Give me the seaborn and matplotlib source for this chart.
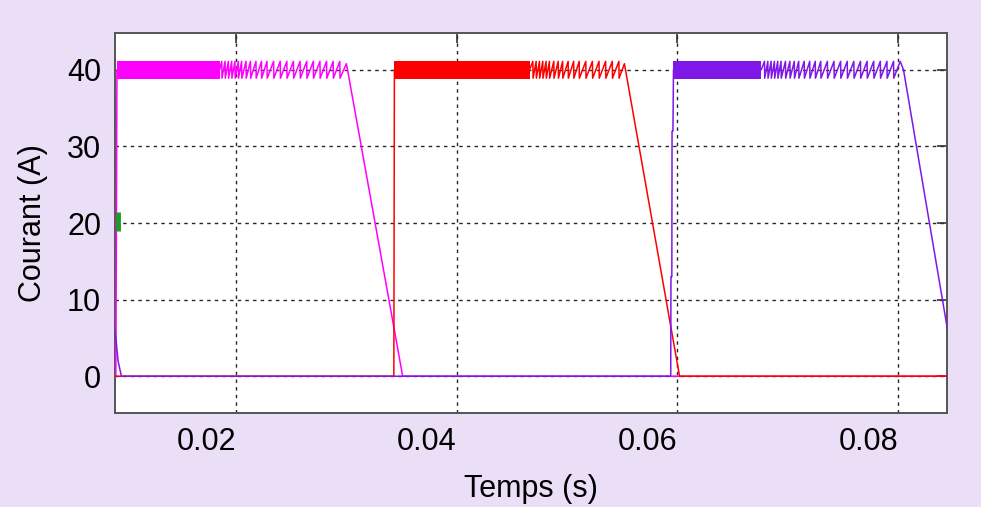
import numpy as np
import pandas as pd
import matplotlib
matplotlib.use("Agg")
import matplotlib.pyplot as plt
import seaborn as sns

# phase currents (time in s, current in A)
t_mag = [0.0088, 0.0091, 0.0092, 0.0185,
         0.0187, 0.01872, 0.0190, 0.01902, 0.0193, 0.01932, 0.0196, 0.01962, 0.0199, 0.01992,
         0.0202, 0.02022, 0.0205, 0.02052, 0.0209, 0.02092, 0.0213, 0.02132,
         0.0218, 0.02182, 0.0223, 0.02232, 0.0228, 0.02282, 0.0234, 0.02342, 0.0240, 0.02402,
         0.0246, 0.02462, 0.0252, 0.02522, 0.0258, 0.02582, 0.0264, 0.02642, 0.0270, 0.02702,
         0.0276, 0.02762, 0.0282, 0.02822, 0.0288, 0.02882, 0.0294, 0.02942, 0.0300,
         0.0351, 0.0850]
i_mag = [0.0, 0.0, 40.0, 40.0,
         41.1, 38.9, 41.1, 38.9, 41.1, 38.9, 41.1, 38.9, 41.1, 38.9,
         41.1, 38.9, 41.1, 38.9, 41.1, 38.9, 41.1, 38.9,
         41.1, 38.9, 41.1, 38.9, 41.1, 38.9, 41.1, 38.9, 41.1, 38.9,
         41.1, 38.9, 41.1, 38.9, 41.1, 38.9, 41.1, 38.9, 41.1, 38.9,
         41.1, 38.9, 41.1, 38.9, 41.1, 38.9, 41.1, 38.9, 40.8,
         0.0, 0.0]

t_red = [0.0088, 0.0343, 0.03435, 0.0466,
         0.0469, 0.04692, 0.0472, 0.04722, 0.0475, 0.04752, 0.0478, 0.04782, 0.0481, 0.04812,
         0.0484, 0.04842, 0.0488, 0.04882, 0.0492, 0.04922, 0.0496, 0.04962,
         0.0501, 0.05012, 0.0506, 0.05062, 0.0511, 0.05112, 0.0517, 0.05172, 0.0523, 0.05232,
         0.0529, 0.05292, 0.0535, 0.05352, 0.0541, 0.05412, 0.0547, 0.05472, 0.0552,
         0.0602, 0.0850]
i_red = [0.0, 0.0, 40.0, 40.0,
         41.1, 38.9, 41.1, 38.9, 41.1, 38.9, 41.1, 38.9, 41.1, 38.9,
         41.1, 38.9, 41.1, 38.9, 41.1, 38.9, 41.1, 38.9,
         41.1, 38.9, 41.1, 38.9, 41.1, 38.9, 41.1, 38.9, 41.1, 38.9,
         41.1, 38.9, 41.1, 38.9, 41.1, 38.9, 41.1, 38.9, 40.8,
         0.0, 0.0]

t_vio = [0.0088, 0.0091, 0.0093, 0.0096, 0.0594, 0.05942, 0.0595, 0.05952, 0.0596, 0.05965,
         0.0676,
         0.0679, 0.06792, 0.0682, 0.06822, 0.0685, 0.06852, 0.0688, 0.06882, 0.0691, 0.06912,
         0.0694, 0.06942, 0.0698, 0.06982, 0.0702, 0.07022, 0.0706, 0.07062, 0.0710, 0.07102,
         0.0715, 0.07152, 0.0720, 0.07202, 0.0725, 0.07252, 0.0730, 0.07302, 0.0736, 0.07362,
         0.0742, 0.07422, 0.0748, 0.07482, 0.0754, 0.07542, 0.0760, 0.07602, 0.0766, 0.07662,
         0.0772, 0.07722, 0.0778, 0.07782, 0.0784, 0.07842, 0.0790, 0.07902, 0.0796, 0.07962,
         0.0802, 0.0805,
         0.0845, 0.0850]
i_vio = [8.0, 5.0, 2.0, 0.0, 0.0, 13.0, 13.0, 32.0, 32.0, 40.0,
         40.0,
         41.1, 38.9, 41.1, 38.9, 41.1, 38.9, 41.1, 38.9, 41.1, 38.9,
         41.1, 38.9, 41.1, 38.9, 41.1, 38.9, 41.1, 38.9, 41.1, 38.9,
         41.1, 38.9, 41.1, 38.9, 41.1, 38.9, 41.1, 38.9, 41.1, 38.9,
         41.1, 38.9, 41.1, 38.9, 41.1, 38.9, 41.1, 38.9, 41.1, 38.9,
         41.1, 38.9, 41.1, 38.9, 41.1, 38.9, 41.1, 38.9, 41.1, 38.9,
         41.1, 40.0,
         6.0, 2.0]

# dense hysteresis ripple shown as a filled band (start, end)
band_mag = [0.0092, 0.0185]
band_red = [0.03435, 0.0466]
band_vio = [0.05965, 0.0676]
band_lo = [38.8, 38.8]
band_hi = [41.1, 41.1]

# small green marker near t=0
t_green = [0.00925, 0.00925]
i_green = [19.0, 21.5]

x_ticks = [0.02, 0.04, 0.06, 0.08]
x_labels = ["0.02", "0.04", "0.06", "0.08"]
y_ticks = [0, 10, 20, 30, 40]

c_mag = "#FF00FF"
c_red = "#FF0000"
c_vio = "#7F17E8"

sns.set_style("white")
plt.rcParams["font.family"] = ["Liberation Sans", "DejaVu Sans"]
plt.rcParams["text.color"] = "black"
plt.rcParams["axes.labelcolor"] = "black"
plt.rcParams["xtick.labelcolor"] = "black"
plt.rcParams["ytick.labelcolor"] = "black"

fig = plt.figure(figsize=(9.81, 5.07), dpi=100, facecolor="#EBDFF7")
ax = fig.add_axes([0.1172, 0.1854, 0.8481, 0.7495])
ax.set_facecolor("white")

for band, col in [(band_mag, c_mag), (band_red, c_red), (band_vio, c_vio)]:
    ax.fill_between(band, band_lo, band_hi, color=col, linewidth=0, zorder=2)

df_mag = pd.DataFrame({"t": t_mag, "i": i_mag})
df_red = pd.DataFrame({"t": t_red, "i": i_red})
df_vio = pd.DataFrame({"t": t_vio, "i": i_vio})

sns.lineplot(data=df_mag, x="t", y="i", color=c_mag, lw=1.1, sort=False, estimator=None, ax=ax, zorder=3)
sns.lineplot(data=df_red, x="t", y="i", color=c_red, lw=1.1, sort=False, estimator=None, ax=ax, zorder=3)
sns.lineplot(data=df_vio, x="t", y="i", color=c_vio, lw=1.1, sort=False, estimator=None, ax=ax, zorder=4)
ax.plot(t_green, i_green, color="#1f9a2a", lw=3.5, solid_capstyle="butt", zorder=5)

ax.set_xlim(0.00902, 0.08444)
ax.set_ylim(-4.8, 44.8)
ax.set_xticks(x_ticks)
ax.set_xticklabels(x_labels, ha="right")
ax.set_yticks(y_ticks)

ax.grid(True, color="black", linestyle=(0, (2.5, 3)), linewidth=1.0, alpha=0.85)
ax.set_axisbelow(True)

for s in ax.spines.values():
    s.set_color("#555555")
    s.set_linewidth(1.4)

ax.tick_params(direction="in", length=7, width=1.2, color="#333333",
               top=True, right=True, labelsize=22, pad=10)

ax.set_xlabel("Temps (s)", fontsize=22, labelpad=12)
ax.set_ylabel("Courant (A)", fontsize=22, labelpad=14)

fig.savefig("out.png", dpi=100, facecolor=fig.get_facecolor())
